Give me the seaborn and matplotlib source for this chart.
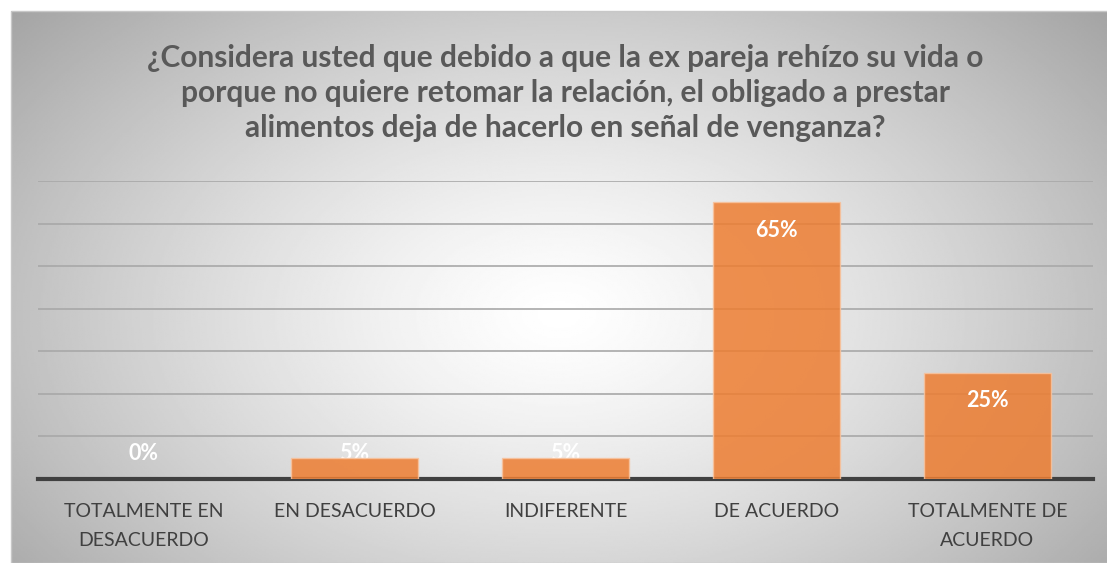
"""
Bar chart: respuestas a la pregunta sobre alimentos y venganza.
"""
import numpy as np
import pandas as pd
import seaborn as sns
import matplotlib.pyplot as plt
from matplotlib.ticker import MultipleLocator

categorias = ["TOTALMENTE EN\nDESACUERDO", "EN DESACUERDO", "INDIFERENTE",
              "DE ACUERDO", "TOTALMENTE DE\nACUERDO"]
porcentajes = [0, 5, 5, 65, 25]
etiquetas = ["0%", "5%", "5%", "65%", "25%"]

titulo = ("¿Considera usted que debido a que la ex pareja rehízo su vida o\n"
          "porque no quiere retomar la relación, el obligado a prestar\n"
          "alimentos deja de hacerlo en señal de venganza?")

df = pd.DataFrame({"cat": categorias, "pct": porcentajes})

sns.set_style("white")
plt.rcParams['font.family'] = ['Lato', 'DejaVu Sans']

fig = plt.figure(figsize=(11.07, 5.63), dpi=100)
fig.patch.set_facecolor("white")

# radial gradient background (white centre, gray edges)
bg = fig.add_axes([11 / 1107, 0, 1 - 11 / 1107, 1 - 11 / 563])
yy, xx = np.mgrid[0:1:300j, 0:1:600j]
r = np.sqrt(((xx - 0.5) / 0.75) ** 2 + ((yy - 0.55) / 0.95) ** 2)
shade = np.clip(1 - 0.42 * r ** 1.3, 0, 1)
bg.imshow(shade, cmap="gray", vmin=0, vmax=1, aspect="auto", extent=[0, 1, 0, 1])
bg.set_axis_off()
border = plt.Rectangle((11 / 1107, 0), 1, 1 - 11 / 563, transform=fig.transFigure,
                       fill=False, edgecolor="#c8c8c8", linewidth=1)
fig.patches.append(border)

ax = fig.add_axes([38 / 1107, 1 - 479 / 563, (1093 - 38) / 1107, (479 - 181) / 563])
ax.patch.set_alpha(0)

sns.barplot(data=df, x="cat", y="pct", color="#ED7D31", width=0.6, ax=ax,
            saturation=1, alpha=0.85, edgecolor="#F8C39E", linewidth=1, zorder=3)
# a zero-height bar should not show its edge
for p in ax.patches:
    if p.get_height() == 0:
        p.set_visible(False)

ax.set_ylim(0, 70)
ax.yaxis.set_major_locator(MultipleLocator(10))
ax.grid(axis="y", color="#a8a8a8", linewidth=1.2, zorder=0)
ax.set_axisbelow(True)
ax.set_yticklabels([])
ax.tick_params(axis="y", length=0)
ax.tick_params(axis="x", length=0, pad=17, labelsize=14, colors="#404040")
for lbl in ax.get_xticklabels():
    lbl.set_linespacing(1.9)
ax.set_xlabel("")
ax.set_ylabel("")
sns.despine(ax=ax, left=True, right=True, top=True)
ax.spines["bottom"].set_color("#404040")
ax.spines["bottom"].set_linewidth(3)

# labels that don't fit in a short bar end up partly behind it, like the original
for i, (v, t) in enumerate(zip(porcentajes, etiquetas)):
    y = max(v - 6.6, 6.1)
    ax.text(i, y, t, ha="center", va="center", color="white",
            fontsize=15.5, fontweight="bold", zorder=5 if y < v else 2)

fig.text(0.511, 1 - 93 / 563, titulo, ha="center", va="center", fontsize=21.5,
         fontweight="bold", color="#595959", linespacing=1.32)

plt.savefig("out.png", dpi=100)
